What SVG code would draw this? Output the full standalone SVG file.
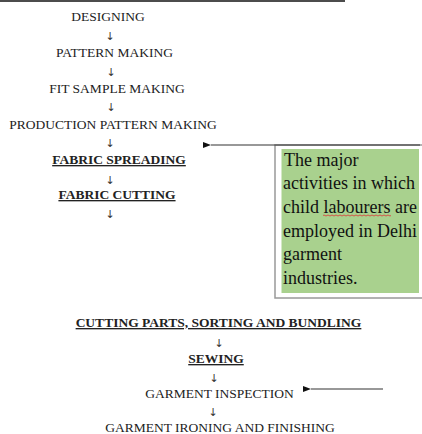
<svg xmlns="http://www.w3.org/2000/svg" width="422" height="434" viewBox="0 0 422 434">
<style>
.t{font-family:"Liberation Serif","Times New Roman",serif;font-size:13.5px;fill:#222;text-anchor:middle}
.b{font-weight:bold;text-decoration:underline}
.a{font-family:"DejaVu Sans",sans-serif;font-size:11px;fill:#333;text-anchor:middle}
.bx{font-family:"Liberation Serif","Times New Roman",serif;font-size:18px;fill:#111}
.ln{stroke:#333;stroke-width:1.2;fill:none}
</style>
<defs>
<marker id="ah" markerWidth="8" markerHeight="6" refX="0" refY="3" orient="auto" markerUnits="userSpaceOnUse">
<path d="M8,0 L0,3 L8,6 Z" fill="#111"/>
</marker>
</defs>
<rect width="422" height="434" fill="#fff"/>
<line x1="0" y1="1" x2="345" y2="1" stroke="#111" stroke-width="1.5"/>
<g id="n1"><text class="t" x="108" y="20.5">DESIGNING</text></g>
<g id="n2"><text class="t" x="114.5" y="56.5">PATTERN MAKING</text></g>
<g id="n3"><text class="t" x="117" y="93">FIT SAMPLE MAKING</text></g>
<g id="n4"><text class="t" x="113" y="129">PRODUCTION PATTERN MAKING</text></g>
<g id="n5"><text class="t b" x="119" y="164">FABRIC SPREADING</text></g>
<g id="n6"><text class="t b" x="117" y="199">FABRIC CUTTING</text></g>
<g id="n7"><text class="t b" x="218.5" y="327">CUTTING PARTS, SORTING AND BUNDLING</text></g>
<g id="n8"><text class="t b" x="216" y="363">SEWING</text></g>
<g id="n9"><text class="t" x="219.5" y="398">GARMENT INSPECTION</text></g>
<g id="n10"><text class="t" x="220" y="431.5">GARMENT IRONING AND FINISHING</text></g>
<g id="note">
<rect x="275" y="145" width="150" height="153" fill="#fff" stroke="#999" stroke-width="1.5"/>
<rect x="281.5" y="149" width="137.5" height="144" fill="#a9d18e"/>
<text class="bx" x="284" y="165.5"> The major</text>
<text class="bx" x="283" y="189">activities in which</text>
<text class="bx" x="283" y="213">child labourers are</text>
<text class="bx" x="283" y="236.5">employed in Delhi</text>
<text class="bx" x="283" y="260">garment</text>
<text class="bx" x="283" y="284">industries.</text>
<path d="M323,215.5 q1,-1 2,0 t2,0 t2,0 t2,0 t2,0 t2,0 t2,0 t2,0 t2,0 t2,0 t2,0 t2,0 t2,0 t2,0 t2,0 t2,0 t2,0 t2,0 t2,0 t2,0 t2,0 t2,0 t2,0 t2,0 t2,0 t2,0 t2,0 t2,0 t2,0 t2,0 t2,0 t2,0 t2,0 t2,0" fill="none" stroke="#d33" stroke-width="0.8"/>
</g>
<g id="connectors">
<text class="a" x="110" y="39.5">↓</text>
<text class="a" x="111" y="75.5">↓</text>
<text class="a" x="111" y="110.5">↓</text>
<text class="a" x="110" y="146.5">↓</text>
<text class="a" x="110" y="184">↓</text>
<text class="a" x="110" y="217.5">↓</text>
<text class="a" x="219" y="346.5">↓</text>
<text class="a" x="214" y="381.5">↓</text>
<text class="a" x="213" y="416">↓</text>
<line class="ln" x1="420" y1="145" x2="211" y2="145" marker-end="url(#ah)"/>
<line class="ln" x1="383" y1="389" x2="311" y2="389" marker-end="url(#ah)"/>
</g>
</svg>
